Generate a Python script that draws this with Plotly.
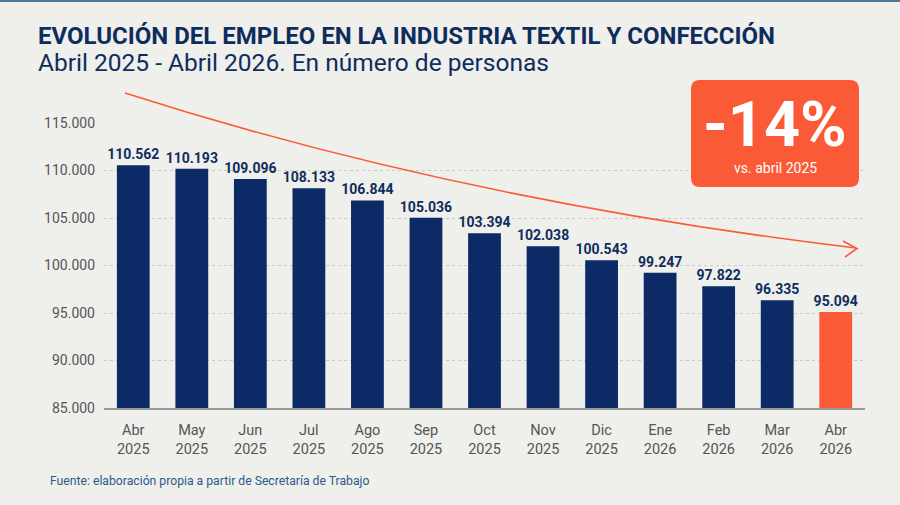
import plotly.graph_objects as go

months = ["Abr<br>2025", "May<br>2025", "Jun<br>2025", "Jul<br>2025", "Ago<br>2025", "Sep<br>2025",
          "Oct<br>2025", "Nov<br>2025", "Dic<br>2025", "Ene<br>2026", "Feb<br>2026", "Mar<br>2026",
          "Abr<br>2026"]
empleo = [110562, 110193, 109096, 108133, 106844, 105036, 103394, 102038, 100543, 99247, 97822,
          96335, 95094]
value_labels = ["110.562", "110.193", "109.096", "108.133", "106.844", "105.036", "103.394",
                "102.038", "100.543", "99.247", "97.822", "96.335", "95.094"]
y_ticks = [85000, 90000, 95000, 100000, 105000, 110000, 115000]
y_tick_labels = ["85.000", "90.000", "95.000", "100.000", "105.000", "110.000", "115.000"]

NAVY = "#0c2a66"
ORANGE = "#fb5a36"
BG = "#efefec"

W, H = 900, 505
L, R, T, B = 104, 35, 123, 97
PW, PH = W - L - R, H - T - B


def px(x):
    return (x - L) / PW


def py(y):
    return (H - B - y) / PH


colors = [NAVY] * (len(empleo) - 1) + [ORANGE]

fig = go.Figure()
fig.add_trace(go.Bar(
    x=months, y=empleo, marker=dict(color=colors, line=dict(width=0)),
    text=value_labels, textposition="outside", cliponaxis=False, constraintext="none",
    textfont=dict(family="Roboto", size=14, color="#0f2d5c", weight="bold"),
    hoverinfo="skip",
))

shapes = []
# top border line
shapes.append(dict(type="line", xref="paper", yref="paper", x0=px(0), x1=px(W), y0=py(1), y1=py(1),
                   line=dict(color="#4d7a99", width=2)))
# curved trend arrow
p0, c, p2 = (125, 93), (462, 201), (856, 248)
path = f"M {px(p0[0])},{py(p0[1])} Q {px(c[0])},{py(c[1])} {px(p2[0])},{py(p2[1])}"
shapes.append(dict(type="path", xref="paper", yref="paper", path=path,
                   line=dict(color=ORANGE, width=1.6)))
head = f"M {px(843)},{py(241)} L {px(857)},{py(248.5)} L {px(845)},{py(257)}"
shapes.append(dict(type="path", xref="paper", yref="paper", path=head,
                   line=dict(color=ORANGE, width=1.6)))
# badge with rounded corners
bx0, bx1, by0, by1, r = 691, 859, 80, 187, 9
badge = (f"M {px(bx0 + r)},{py(by0)} L {px(bx1 - r)},{py(by0)} "
         f"Q {px(bx1)},{py(by0)} {px(bx1)},{py(by0 + r)} L {px(bx1)},{py(by1 - r)} "
         f"Q {px(bx1)},{py(by1)} {px(bx1 - r)},{py(by1)} L {px(bx0 + r)},{py(by1)} "
         f"Q {px(bx0)},{py(by1)} {px(bx0)},{py(by1 - r)} L {px(bx0)},{py(by0 + r)} "
         f"Q {px(bx0)},{py(by0)} {px(bx0 + r)},{py(by0)} Z")
shapes.append(dict(type="path", xref="paper", yref="paper", path=badge,
                   fillcolor=ORANGE, line=dict(width=0), layer="above"))

annotations = [
    dict(text="EVOLUCIÓN DEL EMPLEO EN LA INDUSTRIA TEXTIL Y CONFECCIÓN", xref="paper", yref="paper",
         x=px(36), y=py(36), xanchor="left", yanchor="middle", showarrow=False,
         font=dict(family="Roboto", size=24, color="#0f2d5c", weight="bold")),
    dict(text="Abril 2025 - Abril 2026. En número de personas", xref="paper", yref="paper",
         x=px(36), y=py(62), xanchor="left", yanchor="middle", showarrow=False,
         font=dict(family="Roboto", size=24.5, color="#0f2d5c")),
    dict(text="-14%", xref="paper", yref="paper", x=px(775), y=py(124), xanchor="center",
         yanchor="middle", showarrow=False,
         font=dict(family="Roboto", size=63, color="white", weight="bold")),
    dict(text="vs. abril 2025", xref="paper", yref="paper", x=px(775), y=py(168), xanchor="center",
         yanchor="middle", showarrow=False,
         font=dict(family="Roboto", size=14, color="white")),
    dict(text="Fuente: elaboración propia a partir de Secretaría de Trabajo", xref="paper",
         yref="paper", x=px(48), y=py(481), xanchor="left", yanchor="middle", showarrow=False,
         font=dict(family="Roboto", size=12.2, color="#2b5b8c")),
]

fig.update_layout(
    width=W, height=H, margin=dict(l=L, r=R, t=T, b=B),
    paper_bgcolor=BG, plot_bgcolor=BG, showlegend=False,
    bargap=0.44, shapes=shapes, annotations=annotations,
    font=dict(family="Roboto"),
    xaxis=dict(showgrid=False, showline=True, linecolor="#9a9a9a", linewidth=1.5,
               tickfont=dict(family="Roboto", size=14.5, color="#555555"),
               ticklabelstandoff=8, fixedrange=True),
    yaxis=dict(range=[85000, 115000], tickvals=y_ticks, ticktext=y_tick_labels,
               showgrid=True, gridcolor="#c9c9c6", griddash="dot", gridwidth=1,
               zeroline=False, showline=False,
               tickfont=dict(family="Roboto", size=14, color="#555555"),
               ticklabelstandoff=8, fixedrange=True),
)

fig.write_html("out.html")
